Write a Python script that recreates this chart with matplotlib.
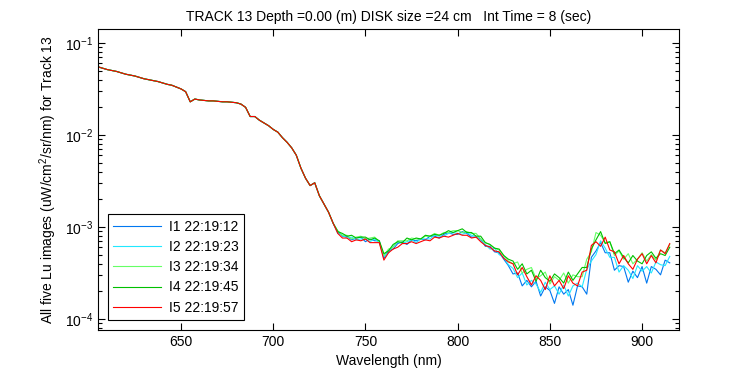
import numpy as np
import matplotlib
matplotlib.use('Agg')
import matplotlib.pyplot as plt
from matplotlib.ticker import LogLocator, NullFormatter

plt.rcParams['font.family'] = ['Liberation Sans', 'DejaVu Sans']
plt.rcParams['mathtext.default'] = 'regular'

# wavelength grid (nm)
wavelength = np.arange(605, 915.1, 2.5)

# common spectrum shape, log10 of Lu
base_log = [
    -1.26, -1.275, -1.29, -1.30, -1.31, -1.325, -1.34, -1.35, -1.36, -1.375,
    -1.39, -1.40, -1.41, -1.42, -1.435, -1.45, -1.46, -1.48, -1.50, -1.53,
    -1.64, -1.61, -1.62, -1.625, -1.63, -1.63, -1.635, -1.64, -1.64, -1.645,
    -1.65, -1.665, -1.70, -1.80, -1.80, -1.84, -1.87, -1.90, -1.94, -1.97,
    -2.03, -2.08, -2.14, -2.22, -2.36, -2.47, -2.55, -2.52, -2.66, -2.75,
    -2.84, -2.96,
    -3.06, -3.10, -3.12, -3.13, -3.13, -3.13, -3.14, -3.14, -3.15, -3.17,
    -3.33, -3.27, -3.22, -3.18, -3.17, -3.16, -3.16, -3.15, -3.14, -3.13,
    -3.12, -3.11, -3.10, -3.09, -3.08, -3.08, -3.07, -3.07, -3.08, -3.09,
    -3.11, -3.14, -3.19, -3.22, -3.24, -3.28, -3.33, -3.38,
    -3.43, -3.47, -3.50, -3.53, -3.55, -3.57, -3.58, -3.59, -3.60, -3.61,
    -3.61, -3.61, -3.61, -3.60, -3.59, -3.55, -3.45, -3.30, -3.18, -3.15,
    -3.18, -3.24, -3.31, -3.36, -3.39, -3.40, -3.41, -3.41, -3.40, -3.39,
    -3.38, -3.36, -3.35, -3.32, -3.30,
]

# per-image deviations (log10) from 735 nm onwards
dev_i1 = [
    0.01, 0.00, 0.02, -0.01, 0.01, 0.02, -0.02, 0.01, 0.00, 0.02, -0.01, 0.01,
    -0.02, 0.00, 0.01, -0.03, 0.02, 0.00, 0.01, -0.01, 0.02, 0.01, -0.02, 0.01,
    0.02, 0.00, -0.01, 0.02, 0.01, -0.02, 0.00, 0.01, -0.02, 0.01, -0.03, 0.00, -0.02, -0.04,
    -0.08, -0.03, -0.14, -0.05, -0.10, -0.02, -0.17, -0.06, -0.09, -0.22, -0.04, -0.12,
    -0.07, -0.25, -0.05, -0.10, -0.28, -0.03, -0.08, -0.02, -0.10, -0.04, -0.16, -0.06,
    -0.04, -0.20, -0.07, -0.14, -0.03, -0.22, -0.05, -0.10, -0.17, -0.04, -0.09,
]
dev_i2 = [
    -0.01, 0.01, 0.00, 0.02, -0.01, 0.00, 0.01, -0.02, 0.02, 0.00, 0.01, -0.01,
    0.01, 0.02, -0.01, 0.00, 0.02, -0.02, 0.01, 0.00, -0.01, 0.02, 0.00, -0.01,
    0.01, 0.02, 0.00, -0.01, 0.02, 0.00, 0.01, -0.01, 0.00, -0.02, 0.01, -0.02, 0.00, -0.03,
    -0.02, -0.08, 0.00, -0.10, -0.03, -0.05, -0.13, -0.01, -0.08, -0.03, -0.12, -0.02,
    -0.14, -0.04, -0.02, -0.10, -0.01, -0.07, -0.12, 0.00, -0.05, -0.09, -0.02, -0.13,
    -0.03, -0.07, -0.15, -0.01, -0.08, -0.04, -0.12, -0.02, -0.06, -0.10, -0.02,
]
dev_i3 = [
    0.02, 0.01, 0.03, 0.00, 0.02, 0.03, 0.01, 0.02, 0.04, 0.01, 0.02, 0.03,
    0.00, 0.03, 0.02, 0.01, 0.04, 0.02, 0.01, 0.03, 0.02, 0.04, 0.01, 0.03,
    0.02, 0.04, 0.03, 0.01, 0.03, 0.02, 0.04, 0.01, 0.02, 0.03, 0.01, 0.03, 0.02, 0.01,
    0.03, 0.09, 0.00, 0.07, 0.11, 0.01, 0.05, 0.10, -0.02, 0.07, 0.03, 0.11,
    0.00, 0.08, 0.05, 0.01, 0.10, 0.03, 0.12, 0.06, 0.01, 0.08, 0.00, 0.10,
    0.04, 0.11, 0.01, 0.06, 0.12, 0.02, 0.08, 0.00, 0.10, 0.04, 0.11,
]
dev_i4 = [
    0.01, 0.03, 0.02, 0.04, 0.01, 0.02, 0.03, 0.00, 0.03, 0.02, 0.04, 0.01,
    0.03, 0.02, 0.00, 0.04, 0.02, 0.03, 0.01, 0.04, 0.02, 0.03, 0.01, 0.02,
    0.04, 0.02, 0.03, 0.05, 0.02, 0.03, 0.01, 0.04, 0.02, 0.03, 0.01, 0.04, 0.02, 0.03,
    0.06, 0.01, 0.10, 0.02, 0.08, -0.02, 0.11, 0.04, 0.01, 0.10, 0.06, 0.00,
    0.12, 0.02, 0.08, 0.11, 0.01, 0.06, 0.04, 0.10, 0.00, 0.08, 0.02, 0.11,
    0.06, 0.01, 0.10, 0.04, 0.00, 0.08, 0.11, 0.02, 0.06, 0.01, 0.08,
]
dev_i5 = [
    -0.01, -0.02, 0.00, -0.03, -0.01, -0.02, 0.01, -0.03, -0.02, 0.00, -0.03, -0.01,
    -0.02, -0.04, -0.01, -0.02, 0.00, -0.03, -0.02, -0.01, -0.03, 0.00, -0.02, -0.01,
    -0.03, -0.01, 0.00, -0.02, -0.01, -0.03, 0.00, -0.02, -0.01, 0.00, -0.02, 0.01, -0.01, 0.00,
    0.03, -0.05, 0.06, -0.01, -0.08, 0.04, 0.00, -0.09, 0.07, -0.03, 0.03, -0.06,
    0.08, -0.01, -0.05, 0.06, -0.02, 0.10, 0.02, -0.06, 0.07, -0.01, 0.04, -0.04,
    0.08, 0.00, -0.05, 0.06, 0.11, -0.01, 0.07, -0.03, 0.10, 0.03, 0.12,
]

labels = ['I1 22:19:12', 'I2 22:19:23', 'I3 22:19:34', 'I4 22:19:45', 'I5 22:19:57']
colors = ['#0078F0', '#22E8FF', '#66FF66', '#00C000', '#FF0000']
devs = [dev_i1, dev_i2, dev_i3, dev_i4, dev_i5]

base = np.array(base_log)
n_flat = len(base) - len(dev_i1)

fig = plt.figure(figsize=(7.5, 3.75), dpi=100)
ax = fig.add_axes([0.1307, 0.12, 0.7746, 0.803])

for lab, col, d in zip(labels, colors, devs):
    lu = 10 ** (base + np.concatenate([np.zeros(n_flat), d]))
    ax.plot(wavelength, lu, color=col, lw=0.8, label=lab)

ax.set_yscale('log')
ax.set_xlim(605, 920)
ax.set_ylim(7.6e-5, 0.142)
ax.set_xticks([650, 700, 750, 800, 850, 900])
ax.yaxis.set_major_locator(LogLocator(base=10, numticks=10))
ax.yaxis.set_minor_locator(LogLocator(base=10, subs=np.arange(2, 10), numticks=10))
ax.yaxis.set_minor_formatter(NullFormatter())
ax.tick_params(which='both', direction='in', top=True, right=True, labelsize=10, width=0.8)
ax.tick_params(which='major', length=5)
ax.tick_params(which='minor', length=3)
for s in ax.spines.values():
    s.set_linewidth(0.8)

ax.set_xlabel('Wavelength (nm)', fontsize=10)
ax.set_ylabel('All five Lu images (uW/cm$^2$/sr/nm) for Track 13', fontsize=10)
ax.set_title('TRACK 13 Depth =0.00 (m) DISK size =24 cm   Int Time = 8 (sec)', fontsize=10)

leg = ax.legend(loc='lower left', fontsize=10, handlelength=3.4, handletextpad=0.6,
                fancybox=False, edgecolor='black', framealpha=1,
                borderaxespad=0.7, labelspacing=0.45)
leg.get_frame().set_linewidth(0.8)

fig.savefig('out.png', dpi=100)
